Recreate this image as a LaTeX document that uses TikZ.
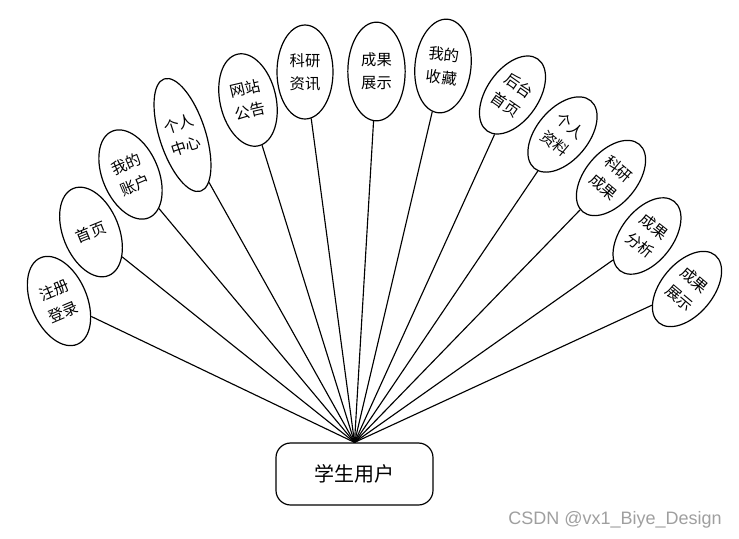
\documentclass[tikz,border=0pt]{standalone}
\usepackage{fontspec}
\setmainfont{Noto Sans CJK SC}
\newfontfamily\wmfont{Liberation Sans}
\usetikzlibrary{shapes.geometric,positioning}

\begin{document}
\begin{tikzpicture}[
    x=0.75pt, y=-0.75pt,
    func/.style={ellipse, draw, line width=0.9pt, inner sep=0pt, minimum width=42pt, minimum height=70.5pt, align=center, font=\fontsize{11.5}{17.5}\selectfont},
    funcs/.style={func, minimum width=39pt, minimum height=66pt},
    user/.style={rectangle, draw, line width=0.9pt, rounded corners=11pt, minimum width=117.75pt, minimum height=46.5pt, font=\fontsize{15}{17}\selectfont},
    link/.style={line width=0.85pt}
]
\useasboundingbox (0,0) rectangle (739,539);

\node[user] (root) at (354.5,474) {学生用户};

\node[func, rotate=23] (e1) at (59,301) {注册\\登录};
\node[func, rotate=22] (e2) at (91,232) {首页};
\node[func, rotate=23] (e3) at (130.5,174.5) {我的\\账户};
\node[func, rotate=18, minimum width=34.5pt, minimum height=88.5pt] (e4) at (182.5,135) {个人\\中心};
\node[func, rotate=13] (e5) at (248,100) {网站\\公告};
\node[func] (e6) at (305,72) {科研\\资讯};
\node[func, minimum width=43pt, minimum height=74pt] (e7) at (376.5,71.5) {成果\\展示};
\node[func, rotate=-6] (e8) at (443,66) {我的\\收藏};
\node[funcs, rotate=-35] (e9) at (512.5,95) {后台\\首页};
\node[funcs, rotate=-40] (e10) at (562.5,134.5) {个人\\资料};
\node[funcs, rotate=-40] (e11) at (611,178) {科研\\成果};
\node[funcs, rotate=-38] (e12) at (647,236) {成果\\分析};
\node[funcs, rotate=-40] (e13) at (687,289) {成果\\展示};

\draw[link] (e1) -- (root.north);
\draw[link] (e2) -- (root.north);
\draw[link] (e3) -- (root.north);
\draw[link] (e4) -- (root.north);
\draw[link] (e5) -- (root.north);
\draw[link] (e6) -- (root.north);
\draw[link] (e7) -- (root.north);
\draw[link] (e8) -- (root.north);
\draw[link] (e9) -- (root.north);
\draw[link] (e10) -- (root.north);
\draw[link] (e11) -- (root.north);
\draw[link] (e12) -- (root.north);
\draw[link] (e13) -- (root.north);

\node[font=\wmfont\fontsize{13.5}{15}\selectfont, text=gray!75] (csdn) at (615,520) {CSDN @vx1\_Biye\_Design};
\end{tikzpicture}
\end{document}
